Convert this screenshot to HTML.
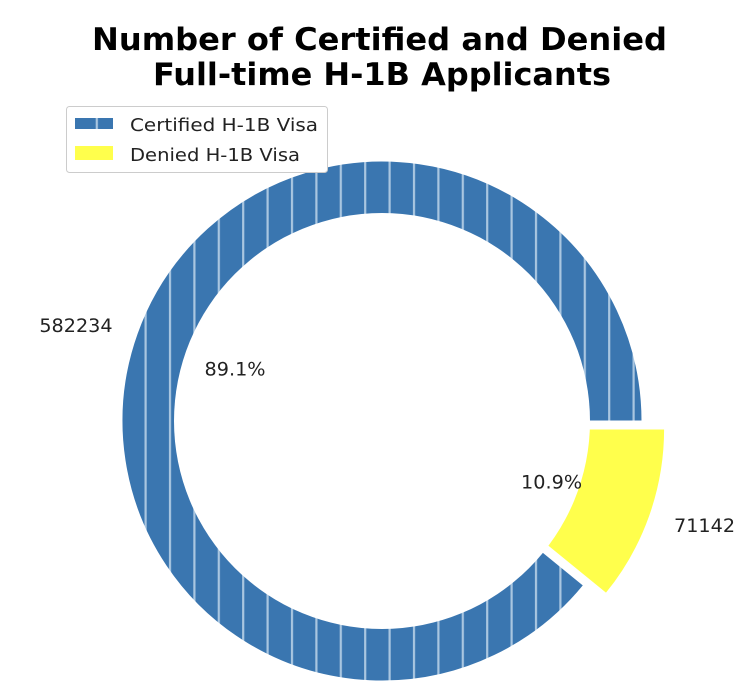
<!DOCTYPE html>
<html><head><meta charset="utf-8"><style>
body{margin:0;background:#fff;}
svg{display:block;font-family:"DejaVu Sans","Liberation Sans",sans-serif;}
</style></head><body>
<svg id="chart" width="744" height="696" viewBox="0 0 744 696">
<defs>
<pattern id="hatch" patternUnits="userSpaceOnUse" width="24.4" height="10" x="388.5" y="0">
<rect width="24.4" height="10" fill="#3a76b0"/>
<rect x="0" width="2.2" height="10" fill="#a9c6e0"/>
</pattern>
</defs>
<text x="92" y="50" font-size="31" font-weight="bold" textLength="575" lengthAdjust="spacingAndGlyphs">Number of Certified and Denied</text>
<text x="153" y="85" font-size="31" font-weight="bold" textLength="458" lengthAdjust="spacingAndGlyphs">Full-time H-1B Applicants</text>
<g id="slices"></g>
<circle cx="382" cy="421" r="208" fill="#fff"/>
<g id="labels"></g>
<g>
<rect x="66.5" y="106.5" width="261" height="66" rx="3" fill="#fff" stroke="#ccc"/>
<rect x="75" y="118" width="38" height="11" fill="url(#hatch)"/>
<text x="130" y="131" font-size="18" fill="#222" textLength="188" lengthAdjust="spacingAndGlyphs">Certified H-1B Visa</text>
<rect x="75" y="146" width="38" height="14" fill="#ffff4c"/>
<text x="130" y="161" font-size="18" fill="#222" textLength="170" lengthAdjust="spacingAndGlyphs">Denied H-1B Visa</text>
</g>
</svg>
<script>
const categories = ["Certified H-1B Visa", "Denied H-1B Visa"];
const counts = [582234, 71142];
const explode = [0, 24];
const fills = ["url(#hatch)", "#ffff4c"];
const cx = 382, cy = 421, R = 260;
const g = document.getElementById('slices');
const lg = document.getElementById('labels');
const ns = 'http://www.w3.org/2000/svg';
const total = counts.reduce((a,b)=>a+b,0);
let start = 0;
counts.forEach((v,i)=>{
  const sweep = v/total*360;
  const a0 = start, a1 = start+sweep;
  const midDeg=(a0+a1)/2, mid = midDeg*Math.PI/180;
  const ox = explode[i]*Math.cos(mid), oy = -explode[i]*Math.sin(mid);
  const pt=(rad,a)=>[cx+ox+rad*Math.cos(a*Math.PI/180), cy+oy-rad*Math.sin(a*Math.PI/180)];
  const large = sweep>180?1:0;
  const p1=pt(R,a0),p2=pt(R,a1);
  const d=`M${cx+ox},${cy+oy}L${p1}A${R},${R} 0 ${large} 0 ${p2}Z`;
  const path=document.createElementNS(ns,'path');
  path.setAttribute('d',d);
  path.setAttribute('fill',fills[i]);
  path.setAttribute('stroke','#fff');
  path.setAttribute('stroke-width','1');
  
  
  g.appendChild(path);
  const lp=pt(R*1.1,midDeg);
  const t=document.createElementNS(ns,'text');
  t.setAttribute('x',lp[0]);t.setAttribute('y',lp[1]+7);
  t.setAttribute('text-anchor',Math.cos(mid)<0?'end':'start');
  t.setAttribute('font-size','19');t.setAttribute('fill','#222');
  t.setAttribute('textLength', String(v).length*12.2);
  t.setAttribute('lengthAdjust','spacingAndGlyphs');
  t.textContent=v;
  
  
  lg.appendChild(t);
  const pp=pt(R*0.6,midDeg);
  const t2=document.createElementNS(ns,'text');
  t2.setAttribute('x',pp[0]);t2.setAttribute('y',pp[1]+7);
  t2.setAttribute('text-anchor','middle');
  t2.setAttribute('font-size','19');t2.setAttribute('fill','#222');
  t2.setAttribute('textLength','61');
  t2.setAttribute('lengthAdjust','spacingAndGlyphs');
  t2.textContent=(v/total*100).toFixed(1)+'%';
  
  
  lg.appendChild(t2);
  start=a1;
});
</script>
</body></html>
